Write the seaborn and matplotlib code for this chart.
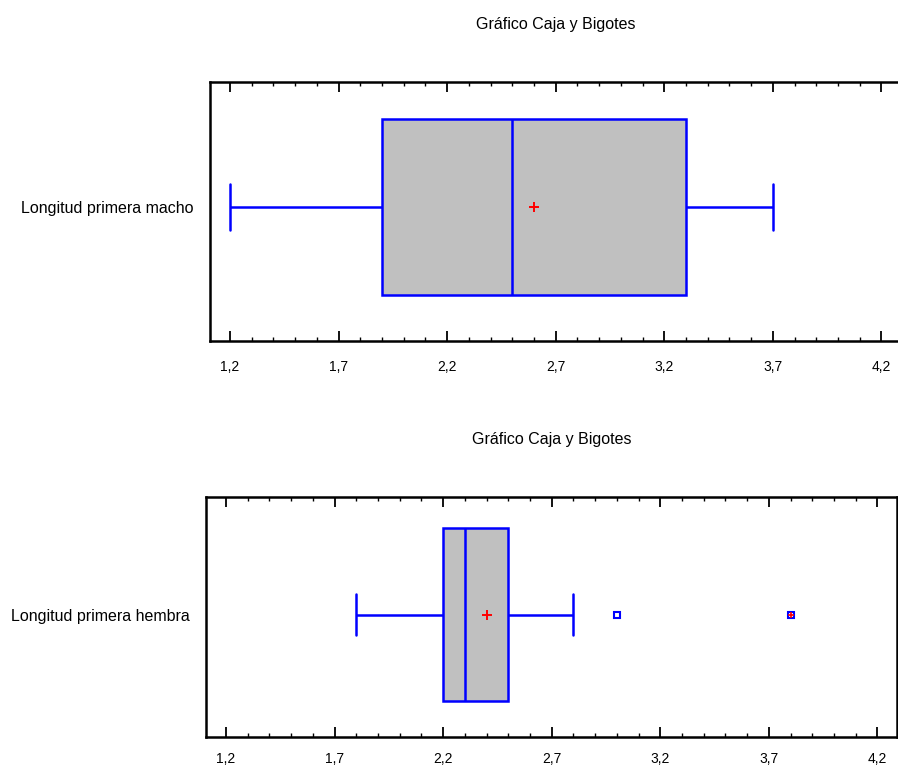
import numpy as np
import pandas as pd
import matplotlib
matplotlib.use("Agg")
import matplotlib.pyplot as plt
import seaborn as sns
from matplotlib.ticker import FuncFormatter, MultipleLocator

# muestras (cuartiles, extremos, media)
macho = [1.2, 1.7, 1.9, 2.3, 2.5, 3.1, 3.3, 3.7, 3.7]
hembra = [1.8, 1.8, 2.0, 2.2, 2.2, 2.2, 2.3, 2.3, 2.3, 2.5, 2.8, 3.0, 3.8]
labels = ["Longitud primera macho", "Longitud primera hembra"]
x_ticks = [1.2, 1.7, 2.2, 2.7, 3.2, 3.7, 4.2]
titulo = "Gráfico Caja y Bigotes"

sns.set_theme(style="white")
plt.rcParams['font.family'] = ['Liberation Sans', 'DejaVu Sans']
plt.rcParams['text.color'] = 'black'
plt.rcParams['xtick.color'] = 'black'
plt.rcParams['ytick.color'] = 'black'

fig = plt.figure(figsize=(8.98, 7.73), dpi=100)
W, H = 898, 773
# left, top, right, bottom in pixels
boxes_px = [(210, 82, 901, 341), (206, 497, 897, 737)]
widths = [0.68, 0.72]
caps = [0.18, 0.17]
tick_pad = [14, 11]
y_shift = [0.017, 0.01]


def comma(v, pos):
    return f"{v:.1f}".replace('.', ',')


for i, (vals, lab) in enumerate(zip([macho, hembra], labels)):
    l, t, r, b = boxes_px[i]
    ax = fig.add_axes([l / W, 1 - b / H, (r - l) / W, (b - t) / H])
    df = pd.DataFrame({"valor": vals, "grupo": lab})
    sns.boxplot(data=df, x="valor", y="grupo", orient="h", ax=ax,
                color="#C0C0C0", saturation=1, linecolor="blue",
                linewidth=1.8, width=widths[i], capwidths=caps[i],
                showmeans=True,
                meanprops=dict(marker="+", markeredgecolor="red",
                               markersize=7, markeredgewidth=1.4),
                flierprops=dict(marker="s", markerfacecolor="white",
                                markeredgecolor="blue", markersize=5,
                                markeredgewidth=1.5))
    # far outliers (beyond 3 IQR) get a red plus inside
    v = np.array(vals)
    q1, q3 = np.percentile(v, [25, 75])
    iqr = q3 - q1
    far = v[(v > q3 + 3 * iqr) | (v < q1 - 3 * iqr)]
    if len(far):
        sns.scatterplot(x=far, y=np.zeros(len(far)), marker="+", color="red",
                        s=22, linewidth=1.2, ax=ax, zorder=5)

    ax.set_xlim(1.108, 4.29)
    ax.set_ylim(0.5 + y_shift[i], -0.5 + y_shift[i])
    ax.set_xticks(x_ticks)
    ax.xaxis.set_major_formatter(FuncFormatter(comma))
    ax.xaxis.set_minor_locator(MultipleLocator(0.1))
    ax.tick_params(axis="x", which="major", direction="in", top=True,
                   bottom=True, length=7, width=1.3, pad=tick_pad[i],
                   labelsize=10)
    ax.tick_params(axis="x", which="minor", direction="in", top=True,
                   bottom=True, length=3, width=1.0)
    ax.tick_params(axis="y", length=0, pad=12, labelsize=11.5)
    ax.set_xlabel("")
    ax.set_ylabel("")
    for s in ax.spines.values():
        s.set_visible(True)
        s.set_color("black")
        s.set_linewidth(1.8)
    ax.set_title(titulo, fontsize=11.5, pad=38)

fig.savefig("out.png", dpi=100)
